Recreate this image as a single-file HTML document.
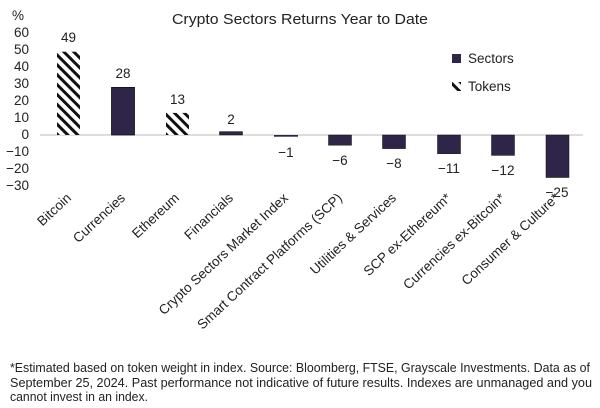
<!DOCTYPE html>
<html><head><meta charset="utf-8"><style>
html,body{margin:0;padding:0;background:#fff;width:600px;height:408px;overflow:hidden}
svg{display:block;font-family:"Liberation Sans",sans-serif}
</style></head><body>
<svg width="600" height="408" viewBox="0 0 600 408">
<defs>
<pattern id="h" patternUnits="userSpaceOnUse" width="7" height="7" patternTransform="rotate(-45)">
<rect width="7" height="7" fill="#fff"/><rect width="3" height="7" fill="#111"/>
</pattern>
</defs>
<text x="172" y="24" font-size="14.5" textLength="256" lengthAdjust="spacingAndGlyphs" fill="#222">Crypto Sectors Returns Year to Date</text>
<g font-size="13.5" fill="#222" text-anchor="end">
<text x="24" y="20">%</text>
<text x="29" y="37">60</text><text x="29" y="54">50</text><text x="29" y="71">40</text>
<text x="29" y="88">30</text><text x="29" y="105">20</text><text x="29" y="122">10</text>
<text x="29" y="139">0</text><text x="29" y="156">−10</text><text x="29" y="173">−20</text>
<text x="29" y="190">−30</text>
</g>
<line x1="40" y1="135" x2="583" y2="135" stroke="#bbb" stroke-width="1"/>
<rect x="57" y="51.7" width="23" height="83.3" fill="url(#h)"/>
<rect x="111.5" y="87.4" width="23" height="47.6" fill="#2e2548" stroke="#111" stroke-width="0.8"/>
<rect x="166" y="112.9" width="23" height="22.1" fill="url(#h)"/>
<rect x="219.5" y="131.6" width="23" height="3.4" fill="#2e2548" stroke="#111" stroke-width="0.5"/>
<rect x="274" y="135" width="24" height="1.7" fill="#2e2548"/>
<rect x="328.5" y="135" width="23" height="10.2" fill="#2e2548" stroke="#111" stroke-width="0.5"/>
<rect x="382.5" y="135" width="23" height="13.6" fill="#2e2548" stroke="#111" stroke-width="0.5"/>
<rect x="437.5" y="135" width="23" height="18.7" fill="#2e2548" stroke="#111" stroke-width="0.5"/>
<rect x="491.5" y="135" width="23" height="20.4" fill="#2e2548" stroke="#111" stroke-width="0.5"/>
<rect x="546" y="135" width="23" height="42.5" fill="#2e2548" stroke="#111" stroke-width="0.5"/>
<g font-size="13.5" fill="#222" text-anchor="middle">
<text x="68.5" y="42">49</text><text x="123" y="78">28</text><text x="177.5" y="104">13</text>
<text x="231" y="124">2</text><text x="286" y="157">−1</text><text x="340" y="165">−6</text>
<text x="394" y="168">−8</text><text x="449" y="173">−11</text><text x="503" y="175">−12</text>
<text x="557" y="197">−25</text>
</g>
<g font-size="13.5" fill="#222" text-anchor="end">
<text transform="translate(72,199) rotate(-43)">Bitcoin</text>
<text transform="translate(126,199) rotate(-43)">Currencies</text>
<text transform="translate(180,199) rotate(-43)">Ethereum</text>
<text transform="translate(234,199) rotate(-43)">Financials</text>
<text transform="translate(289,199) rotate(-43)">Crypto Sectors Market Index</text>
<text transform="translate(343,199) rotate(-43)">Smart Contract Platforms (SCP)</text>
<text transform="translate(397,199) rotate(-43)">Utilities &amp; Services</text>
<text transform="translate(452,199) rotate(-43)">SCP ex-Ethereum*</text>
<text transform="translate(506,199) rotate(-43)">Currencies ex-Bitcoin*</text>
<text transform="translate(560,199) rotate(-43)">Consumer &amp; Culture*</text>
</g>
<rect x="452" y="54" width="9" height="9" fill="#2e2548"/>
<text x="468" y="63" font-size="13.5" fill="#222">Sectors</text>
<rect x="452" y="82" width="9" height="9" fill="url(#h)"/>
<text x="468" y="91" font-size="13.5" fill="#222">Tokens</text>
<g font-size="12.5" fill="#222" lengthAdjust="spacingAndGlyphs">
<text x="10" y="372" textLength="580" lengthAdjust="spacingAndGlyphs">*Estimated based on token weight in index. Source: Bloomberg, FTSE, Grayscale Investments. Data as of</text>
<text x="10" y="387" textLength="582" lengthAdjust="spacingAndGlyphs">September 25, 2024. Past performance not indicative of future results. Indexes are unmanaged and you</text>
<text x="10" y="401" textLength="138" lengthAdjust="spacingAndGlyphs">cannot invest in an index.</text>
</g>
</svg>
</body></html>
